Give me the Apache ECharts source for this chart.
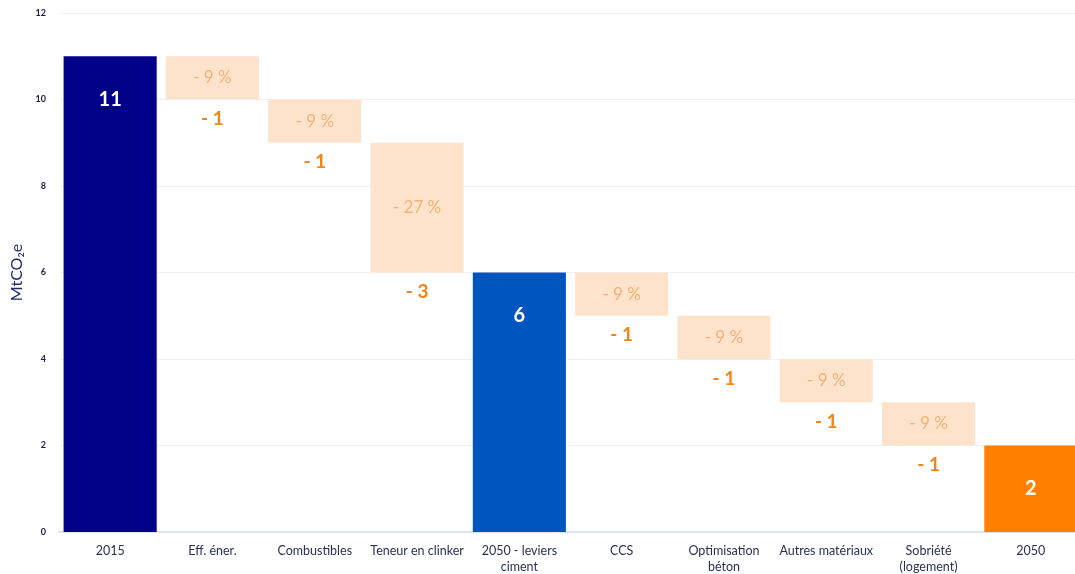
<!DOCTYPE html>
<html><head><meta charset="utf-8">
<script src="https://cdn.jsdelivr.net/npm/echarts@6/dist/echarts.min.js"></script>
<style>html,body{margin:0;padding:0;background:#fff}#c{width:1075px;height:574px}</style>
</head><body><div id="c"></div>
<script>
const categories = ['2015','Eff. éner.','Combustibles','Teneur en clinker','2050 - leviers\nciment','CCS','Optimisation\nbéton','Autres matériaux','Sobriété\n(logement)','2050'];
const totals = [11, null, null, null, 6, null, null, null, null, 2];
const stepBase = [null, 10, 9, 6, null, 5, 4, 3, 2, null];
const stepSize = [null, 1, 1, 3, null, 1, 1, 1, 1, null];
const stepPct = [null, '- 9 %', '- 9 %', '- 27 %', null, '- 9 %', '- 9 %', '- 9 %', '- 9 %', null];
const stepLabel = [null, '- 1', '- 1', '- 3', null, '- 1', '- 1', '- 1', '- 1', null];
const yTicks = [0, 2, 4, 6, 8, 10, 12];

const totalColors = ['#000088', null, null, null, '#0055bf', null, null, null, null, '#ff8000'];
const FONT = 'Lato, "Open Sans", sans-serif';

const chart = echarts.init(document.getElementById('c'));
chart.setOption({
  animation: false,
  grid: { left: 59, width: 1023, top: 13, bottom: 42, outerBoundsMode: 'none', containLabel: false },
  xAxis: {
    type: 'category', data: categories,
    axisLine: { lineStyle: { color: '#d9dcef', width: 1.5 } },
    axisTick: { show: false },
    axisLabel: { color: '#2b2f55', fontSize: 12.5, fontFamily: FONT, margin: 11, lineHeight: 16, interval: 0 }
  },
  yAxis: {
    type: 'value', min: yTicks[0], max: yTicks[yTicks.length - 1], interval: 2,
    name: 'MtCO₂e', nameLocation: 'middle', nameGap: 27, nameRotate: 90,
    nameTextStyle: { color: '#1f2a6b', fontSize: 16, fontFamily: FONT },
    axisLine: { show: false }, axisTick: { show: false },
    axisLabel: { color: '#1a1a4a', fontSize: 9, fontWeight: 'bold', fontFamily: FONT, margin: 13 },
    splitLine: { lineStyle: { color: '#f0f0f3' } }
  },
  series: [
    {
      type: 'bar', stack: 'w', barCategoryGap: '9%',
      itemStyle: { color: 'transparent' },
      data: stepBase,
      label: {
        show: true, position: 'insideTop', distance: 10,
        formatter: p => stepLabel[p.dataIndex] || '',
        color: '#f08518', fontSize: 19, fontWeight: 'bold', fontFamily: FONT
      }
    },
    {
      type: 'bar', stack: 'w',
      itemStyle: { color: '#fde3cc' },
      data: stepSize,
      label: {
        show: true, position: 'inside',
        formatter: p => stepPct[p.dataIndex] || '',
        color: '#f4b275', fontSize: 17, fontFamily: FONT
      }
    },
    {
      type: 'bar', stack: 'w',
      data: totals.map((v, i) => v == null ? null : { value: v, itemStyle: { color: totalColors[i] } }),
      label: {
        show: true, position: 'insideTop', distance: 33,
        color: '#ffffff', fontSize: 20, fontWeight: 'bold', fontFamily: FONT
      }
    }
  ]
});
</script></body></html>
